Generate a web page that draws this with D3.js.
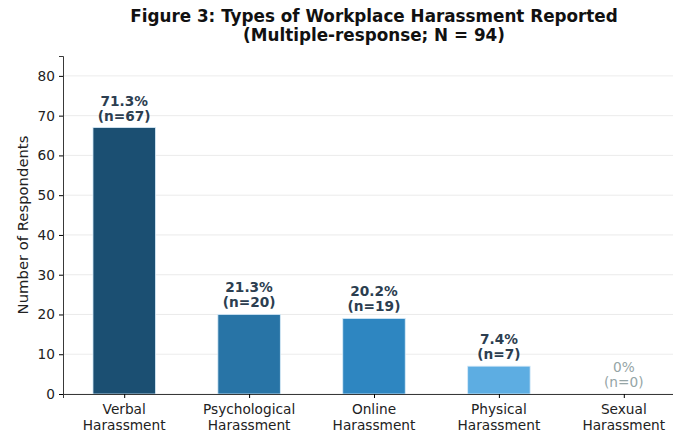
<!DOCTYPE html>
<html>
<head>
<meta charset="utf-8">
<script src="https://cdn.jsdelivr.net/npm/d3@7"></script>
<style>
  body { margin: 0; background: #fff; }
  text { font-family: "DejaVu Sans", sans-serif; }
</style>
</head>
<body>
<script>
    // chart data
    let categories = ["Verbal\nHarassment", "Psychological\nHarassment", "Online\nHarassment", "Physical\nHarassment", "Sexual\nHarassment"];
    let counts = [67, 20, 19, 7, 0];
    let percents = ["71.3%", "21.3%", "20.2%", "7.4%", "0%"];
    let barColors = ["#1b4f72", "#2874a6", "#2e86c1", "#5dade2", "#aed6f1"];
    let yTicks = [0, 10, 20, 30, 40, 50, 60, 70, 80];

    window.onload = function () {
        let width = 673,
            height = 434;
        let margin = {left: 63, top: 56, bottom: 40};
        let plotRight = 685;
        let plotBottom = height - margin.bottom;
        let tickFont = "13.7px";

        var svg = d3.select("body")
            .append("svg")
            .attr("width", width)
            .attr("height", height);

        // x: category positions, matplotlib style (-0.49 .. 4.49)
        var xScale = d3.scaleLinear()
            .domain([-0.49, categories.length - 0.51])
            .range([margin.left, plotRight]);

        var yScale = d3.scaleLinear()
            .domain([0, 85])
            .range([plotBottom, margin.top]);

        //grid lines
        svg.selectAll(".grid")
            .data(yTicks)
            .enter()
            .append("line")
            .attr("class", "grid")
            .attr("x1", margin.left)
            .attr("x2", plotRight)
            .attr("y1", function (d) { return yScale(d); })
            .attr("y2", function (d) { return yScale(d); })
            .attr("stroke", "#e6e6e6")
            .attr("stroke-width", 0.8);

        //bars
        var bw = xScale(0.5) - xScale(0);
        svg.selectAll(".bars")
            .data(counts)
            .enter()
            .append("rect")
            .attr("class", "bars")
            .attr("x", function (d, i) { return xScale(i) - bw / 2; })
            .attr("width", bw)
            .attr("y", function (d) { return yScale(d); })
            .attr("height", function (d) { return plotBottom - yScale(d); })
            .attr("fill", function (d, i) { return barColors[i]; })
            .attr("stroke", function (d) { return d > 0 ? "#d6eaf8" : "none"; })
            .attr("stroke-width", 0.8);

        //value labels
        var labels = svg.selectAll(".numbers")
            .data(counts)
            .enter()
            .append("text")
            .attr("class", "numbers")
            .attr("text-anchor", "middle")
            .attr("font-size", tickFont)
            .attr("font-weight", function (d) { return d > 0 ? "bold" : "normal"; })
            .attr("fill", function (d) { return d > 0 ? "#2c3e50" : "#95a5a6"; });
        labels.append("tspan")
            .attr("x", function (d, i) { return xScale(i); })
            .attr("y", function (d) { return yScale(d) - 22; })
            .text(function (d, i) { return percents[i]; });
        labels.append("tspan")
            .attr("x", function (d, i) { return xScale(i); })
            .attr("y", function (d) { return yScale(d) - 7; })
            .text(function (d) { return "(n=" + d + ")"; });

        //y axis
        var yAxis = svg.append("g")
            .attr("transform", "translate(" + margin.left + ",0)")
            .call(d3.axisLeft(yScale).tickValues(yTicks).tickSize(4).tickPadding(4));
        yAxis.select(".domain").attr("stroke", "#222").attr("stroke-width", 0.9);
        yAxis.selectAll("text").attr("font-size", tickFont).attr("fill", "#222").style("font-family", "DejaVu Sans");

        //x axis
        var xAxis = svg.append("g")
            .attr("transform", "translate(0," + plotBottom + ")")
            .call(d3.axisBottom(xScale).tickValues(d3.range(categories.length)).tickSize(4).tickFormat(""));
        xAxis.select(".domain").attr("stroke", "#222").attr("stroke-width", 0.9);

        svg.selectAll(".xlabel")
            .data(categories)
            .enter()
            .append("text")
            .attr("class", "xlabel")
            .attr("text-anchor", "middle")
            .attr("font-size", tickFont)
            .attr("fill", "#222")
            .each(function (d, i) {
                var lines = d.split("\n");
                for (var k = 0; k < lines.length; k++) {
                    d3.select(this).append("tspan")
                        .attr("x", xScale(i))
                        .attr("y", plotBottom + 20 + k * 15.5)
                        .text(lines[k]);
                }
            });

        //y axis title
        svg.append("text")
            .attr("transform", "translate(28," + ((margin.top + plotBottom) / 2) + ") rotate(-90)")
            .attr("text-anchor", "middle")
            .attr("font-size", "14.8px")
            .attr("fill", "#222")
            .text("Number of Respondents");

        //chart title
        var title = svg.append("text")
            .attr("text-anchor", "middle")
            .attr("font-size", "16.8px")
            .attr("font-weight", "bold")
            .attr("fill", "#111");
        title.append("tspan").attr("x", (margin.left + plotRight) / 2).attr("y", 22)
            .text("Figure 3: Types of Workplace Harassment Reported");
        title.append("tspan").attr("x", (margin.left + plotRight) / 2).attr("y", 41)
            .text("(Multiple-response; N = 94)");
    };
</script>
</body>
</html>
